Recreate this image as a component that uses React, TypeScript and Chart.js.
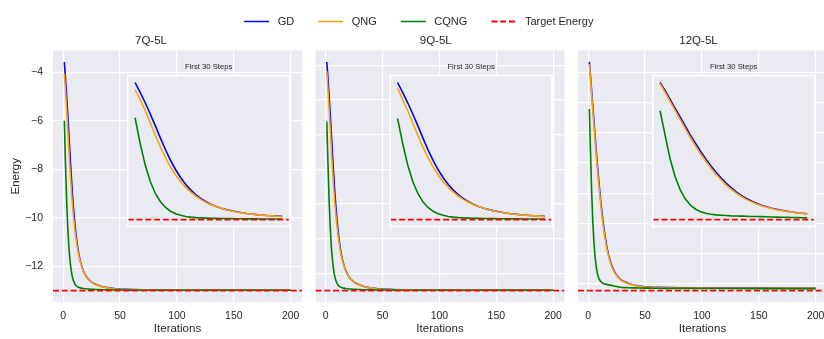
import React, { useEffect, useRef } from 'react';
import { Chart, registerables } from 'chart.js';

Chart.register(...registerables);
Chart.defaults.font.family = "'Liberation Sans', Arial, Helvetica, sans-serif";
Chart.defaults.color = '#262626';

// ---------------- data ----------------
const ITERATIONS = [
  1, 2, 3, 4, 5, 6, 7, 8, 9, 10, 11, 12, 13, 14, 15, 16, 17, 18, 19, 20, 21, 22, 23, 24, 25, 26, 27, 28, 29, 30,
  33, 36, 40, 45, 50, 60, 70, 80, 100, 125, 150, 175, 200,
];

const PANEL_TITLES = ['7Q-5L', '9Q-5L', '12Q-5L'];
const SERIES_LABELS = ['GD', 'QNG', 'CQNG'];
const TARGET_LABEL = 'Target Energy';
const X_LABEL = 'Iterations';
const Y_LABEL = 'Energy';
const INSET_TITLE = 'First 30 Steps';
const INSET_STEPS = 30;
const X_TICK_STEP = 50;
const Y_TICK_STEPS = [2, 2, 2.5];

const TARGET_ENERGY = [-13.0, -17.0, -23.05];

const GD_7Q = [
  -3.58, -4.26, -4.97, -5.74, -6.56, -7.40, -8.20, -8.93, -9.57, -10.12, -10.58, -10.97, -11.29, -11.56, -11.77,
  -11.95, -12.09, -12.21, -12.31, -12.39, -12.46, -12.52, -12.57, -12.61, -12.65, -12.68, -12.71, -12.73, -12.75, -12.77,
  -12.82, -12.855, -12.89, -12.92, -12.94, -12.96, -12.97, -12.975, -12.98, -12.98, -12.98, -12.98, -12.98,
];
const QNG_7Q = [
  -4.07, -4.74, -5.52, -6.35, -7.21, -8.02, -8.74, -9.38, -9.93, -10.39, -10.78, -11.11, -11.39, -11.62, -11.81,
  -11.97, -12.10, -12.215, -12.32, -12.40, -12.47, -12.53, -12.58, -12.62, -12.655, -12.687, -12.714, -12.738, -12.759, -12.777,
  -12.83, -12.86, -12.90, -12.93, -12.95, -12.96, -12.97, -12.98, -12.98, -12.98, -12.98, -12.98, -12.98,
];
const CQNG_7Q = [
  -6.00, -7.75, -9.25, -10.38, -11.20, -11.77, -12.16, -12.42, -12.59, -12.70, -12.78, -12.825, -12.855, -12.875, -12.89,
  -12.90, -12.91, -12.917, -12.923, -12.928, -12.933, -12.937, -12.941, -12.944, -12.947, -12.95, -12.952, -12.954, -12.956, -12.958,
  -12.964, -12.968, -12.972, -12.976, -12.979, -12.982, -12.984, -12.985, -12.986, -12.987, -12.987, -12.988, -12.988,
];

const GD_9Q = [
  -3.81, -4.76, -5.76, -6.84, -7.98, -9.16, -10.28, -11.30, -12.20, -12.97, -13.61, -14.16, -14.61, -14.98, -15.28,
  -15.53, -15.73, -15.89, -16.03, -16.15, -16.24, -16.33, -16.40, -16.45, -16.51, -16.55, -16.59, -16.62, -16.65, -16.68,
  -16.75, -16.80, -16.85, -16.89, -16.915, -16.945, -16.96, -16.965, -16.97, -16.97, -16.97, -16.97, -16.97,
];
const QNG_9Q = [
  -4.35, -5.44, -6.53, -7.69, -8.89, -10.03, -11.04, -11.93, -12.70, -13.35, -13.89, -14.35, -14.75, -15.07, -15.33,
  -15.56, -15.74, -15.90, -16.05, -16.16, -16.26, -16.34, -16.41, -16.47, -16.52, -16.56, -16.60, -16.63, -16.66, -16.69,
  -16.755, -16.805, -16.855, -16.895, -16.92, -16.947, -16.96, -16.967, -16.97, -16.97, -16.97, -16.97, -16.97,
];
const CQNG_9Q = [
  -7.25, -9.65, -11.75, -13.33, -14.48, -15.28, -15.82, -16.19, -16.43, -16.58, -16.69, -16.755, -16.80, -16.825, -16.845,
  -16.86, -16.874, -16.884, -16.892, -16.90, -16.906, -16.912, -16.917, -16.922, -16.926, -16.93, -16.933, -16.936, -16.938, -16.941,
  -16.95, -16.955, -16.961, -16.966, -16.97, -16.975, -16.978, -16.979, -16.98, -16.982, -16.982, -16.983, -16.983,
];

const GD_12Q = [
  -4.14, -5.27, -6.50, -7.73, -8.96, -10.19, -11.42, -12.55, -13.65, -14.67, -15.62, -16.49, -17.28, -18.00, -18.64,
  -19.21, -19.70, -20.12, -20.48, -20.78, -21.05, -21.27, -21.46, -21.63, -21.76, -21.88, -21.99, -22.09, -22.16, -22.24,
  -22.37, -22.48, -22.59, -22.68, -22.74, -22.79, -22.81, -22.82, -22.83, -22.84, -22.85, -22.86, -22.87,
];
const QNG_12Q = [
  -4.30, -5.50, -6.77, -8.04, -9.30, -10.53, -11.76, -12.90, -13.99, -14.99, -15.92, -16.77, -17.55, -18.25, -18.85,
  -19.40, -19.85, -20.25, -20.59, -20.88, -21.12, -21.33, -21.52, -21.67, -21.80, -21.92, -22.01, -22.10, -22.18, -22.26,
  -22.40, -22.51, -22.61, -22.70, -22.76, -22.81, -22.83, -22.84, -22.85, -22.86, -22.86, -22.87, -22.87,
];
const CQNG_12Q = [
  -8.03, -11.42, -14.73, -17.19, -18.98, -20.21, -21.06, -21.61, -21.95, -22.16, -22.29, -22.39, -22.44, -22.48, -22.52,
  -22.54, -22.56, -22.58, -22.60, -22.62, -22.63, -22.65, -22.67, -22.69, -22.71, -22.73, -22.75, -22.77, -22.79, -22.80,
  -22.81, -22.82, -22.83, -22.84, -22.85, -22.86, -22.87, -22.87, -22.88, -22.88, -22.89, -22.89, -22.89,
];

const PANELS = [
  { title: PANEL_TITLES[0], series: [GD_7Q, QNG_7Q, CQNG_7Q], target: TARGET_ENERGY[0], yStep: Y_TICK_STEPS[0] },
  { title: PANEL_TITLES[1], series: [GD_9Q, QNG_9Q, CQNG_9Q], target: TARGET_ENERGY[1], yStep: Y_TICK_STEPS[1] },
  { title: PANEL_TITLES[2], series: [GD_12Q, QNG_12Q, CQNG_12Q], target: TARGET_ENERGY[2], yStep: Y_TICK_STEPS[2] },
];

// ---------------- style / layout ----------------
const TEXT = '#262626';
const BG = '#EAEAF2';
const GRID = '#FFFFFF';
const SERIES_COLORS = ['#0000FF', '#FFA500', '#008000'];
const TARGET_COLOR = '#FF0000';
const LINE_W = 1.6;
const TARGET_W = 1.8;
const TARGET_DASH = [6, 2.8];

const FIG_W = 824;
const FIG_H = 339;
const PANEL_LEFTS = [53, 315.5, 578];
const PANEL_W = 249;
const PLOT_TOP = 50.5;
const PLOT_BOTTOM = 302;
const CANVAS_TOP = 30;
const TITLE_CENTER = 41;
const TITLE_SIZE = 11.5;
const TICK_SIZE = 10.5;
const INSET_BOX = [0.3, 0.3, 0.65, 0.6];
const INSET_TITLE_SIZE = 7.7;
const INSET_TITLE_CENTER = 66.7;
const INSET_CANVAS_TOP = 58;

function axisRange(values: number[]) {
  const lo = Math.min(...values);
  const hi = Math.max(...values);
  const m = (hi - lo) * 0.05;
  return { min: lo - m, max: hi + m };
}

// keep only the "nice" multiples of the step inside the axis range
function niceTicks(step: number) {
  return (s: any) => {
    const out: any[] = [];
    const first = Math.ceil(s.min / step - 1e-9);
    const last = Math.floor(s.max / step + 1e-9);
    for (let k = first; k <= last; k++) out.push({ value: Math.round(k * step * 1000) / 1000 });
    s.ticks = out;
  };
}

const bgPlugin = {
  id: 'panelBg',
  beforeDraw(chart: any, _a: any, opts: any) {
    if (!opts || !opts.color) return;
    const { ctx, chartArea: a } = chart;
    ctx.save();
    ctx.fillStyle = opts.color;
    ctx.fillRect(a.left, a.top, a.right - a.left, a.bottom - a.top);
    ctx.restore();
  },
  afterDatasetsDraw(chart: any, _a: any, opts: any) {
    if (!opts || !opts.frame) return;
    const { ctx, chartArea: a } = chart;
    ctx.save();
    ctx.strokeStyle = GRID;
    ctx.lineWidth = 1.5;
    ctx.strokeRect(a.left, a.top, a.right - a.left, a.bottom - a.top);
    ctx.restore();
  },
};

function buildDatasets(p: any, count: number, xr: { min: number; max: number }, withOrder: boolean) {
  const xs = ITERATIONS.slice(0, count);
  const ds: any[] = p.series.map((arr: number[], k: number) => ({
    label: SERIES_LABELS[k],
    data: arr.slice(0, count).map((y, i) => ({ x: xs[i], y })),
    borderColor: SERIES_COLORS[k],
    backgroundColor: SERIES_COLORS[k],
    borderWidth: LINE_W,
    pointRadius: 0,
    pointHoverRadius: 0,
    order: withOrder ? 4 - k : 0,
  }));
  ds.push({
    label: TARGET_LABEL,
    data: [
      { x: xr.min, y: p.target },
      { x: xr.max, y: p.target },
    ],
    borderColor: TARGET_COLOR,
    backgroundColor: TARGET_COLOR,
    borderWidth: TARGET_W,
    borderDash: TARGET_DASH,
    pointRadius: 0,
    pointHoverRadius: 0,
    order: withOrder ? 1 : 0,
  });
  return ds;
}

function mainGeom(idx: number) {
  const plotLeft = PANEL_LEFTS[idx];
  const yw = idx === 0 ? 53 : 8;
  const left = Math.floor(plotLeft - yw);
  const yAxisW = plotLeft - left;
  const plotRight = plotLeft + PANEL_W;
  const width = Math.ceil(plotRight) + 6 - left;
  const padRight = width - (plotRight - left);
  return { left, top: CANVAS_TOP, width, height: FIG_H - CANVAS_TOP, yAxisW, padRight };
}

function mainConfig(idx: number) {
  const p = PANELS[idx];
  const g = mainGeom(idx);
  const xr = axisRange(ITERATIONS);
  const yr = axisRange([...p.series[0], ...p.series[1], ...p.series[2], p.target]);
  const lh = TITLE_SIZE * 1.2;
  const tPadTop = TITLE_CENTER - CANVAS_TOP - lh / 2;
  const tPadBottom = PLOT_TOP - CANVAS_TOP - tPadTop - lh;
  const xAxisH = FIG_H - PLOT_BOTTOM;
  return {
    type: 'line',
    data: { datasets: buildDatasets(p, ITERATIONS.length, xr, true) },
    plugins: [bgPlugin],
    options: {
      animation: false,
      responsive: false,
      events: [],
      layout: { padding: { left: 0, right: g.padRight, top: 0, bottom: 0 } },
      plugins: {
        legend: { display: false },
        tooltip: { enabled: false },
        title: {
          display: true,
          text: p.title,
          color: TEXT,
          font: { size: TITLE_SIZE, weight: 'normal' },
          padding: { top: tPadTop, bottom: tPadBottom },
        },
        panelBg: { color: BG, frame: false },
      },
      scales: {
        x: {
          type: 'linear',
          min: xr.min,
          max: xr.max,
          bounds: 'data',
          afterBuildTicks: niceTicks(X_TICK_STEP),
          ticks: {
            autoSkip: false,
            maxRotation: 0,
            color: TEXT,
            font: { size: TICK_SIZE },
            padding: 7.7,
            callback: (v: number) => String(v),
          },
          grid: { color: GRID, lineWidth: 1.2, drawTicks: false },
          border: { display: false },
          title: {
            display: true,
            text: X_LABEL,
            color: TEXT,
            font: { size: TITLE_SIZE },
            padding: { top: 0, bottom: 2.8 },
          },
          afterFit: (s: any) => {
            s.height = xAxisH;
          },
        },
        y: {
          type: 'linear',
          min: yr.min,
          max: yr.max,
          bounds: 'data',
          afterBuildTicks: niceTicks(p.yStep),
          ticks: {
            display: idx === 0,
            autoSkip: false,
            color: TEXT,
            font: { size: TICK_SIZE },
            padding: 10,
            callback: (v: number) => (v < 0 ? '\u2212' + Math.abs(v) : String(v)),
          },
          grid: { color: GRID, lineWidth: 1.2, drawTicks: false },
          border: { display: false },
          title: {
            display: idx === 0,
            text: Y_LABEL,
            color: TEXT,
            font: { size: TITLE_SIZE },
            padding: { top: 9.1, bottom: 0 },
          },
          afterFit: (s: any) => {
            s.width = g.yAxisW;
          },
        },
      },
    },
  };
}

function insetGeom(idx: number) {
  const plotLeft = PANEL_LEFTS[idx];
  const plotH = PLOT_BOTTOM - PLOT_TOP;
  const iLeft = plotLeft + INSET_BOX[0] * PANEL_W;
  const iW = INSET_BOX[2] * PANEL_W;
  const iBottom = PLOT_BOTTOM - INSET_BOX[1] * plotH;
  const iTop = iBottom - INSET_BOX[3] * plotH;
  const left = Math.floor(iLeft) - 3;
  const top = INSET_CANVAS_TOP;
  const width = Math.ceil(iLeft + iW) + 3 - left;
  const height = Math.ceil(iBottom) + 3 - top;
  return {
    left,
    top,
    width,
    height,
    padLeft: iLeft - left,
    padRight: width - (iLeft + iW - left),
    padBottom: height - (iBottom - top),
    iTop,
  };
}

function insetConfig(idx: number) {
  const p = PANELS[idx];
  const g = insetGeom(idx);
  const count = ITERATIONS.filter((v) => v <= INSET_STEPS).length;
  const xr = axisRange(ITERATIONS.slice(0, count));
  const yr = axisRange([
    ...p.series[0].slice(0, count),
    ...p.series[1].slice(0, count),
    ...p.series[2].slice(0, count),
    p.target,
  ]);
  const lh = INSET_TITLE_SIZE * 1.2;
  const tPadTop = INSET_TITLE_CENTER - g.top - lh / 2;
  const tPadBottom = g.iTop - g.top - tPadTop - lh;
  return {
    type: 'line',
    data: { datasets: buildDatasets(p, count, xr, true) },
    plugins: [bgPlugin],
    options: {
      animation: false,
      responsive: false,
      events: [],
      layout: { padding: { left: g.padLeft, right: g.padRight, top: 0, bottom: g.padBottom } },
      plugins: {
        legend: { display: false },
        tooltip: { enabled: false },
        title: {
          display: true,
          text: INSET_TITLE,
          color: TEXT,
          font: { size: INSET_TITLE_SIZE, weight: 'normal' },
          padding: { top: tPadTop, bottom: tPadBottom },
        },
        panelBg: { color: BG, frame: true },
      },
      scales: {
        x: { type: 'linear', display: false, min: xr.min, max: xr.max, bounds: 'data' },
        y: { type: 'linear', display: false, min: yr.min, max: yr.max, bounds: 'data' },
      },
    },
  };
}

const LEGEND_TOP = -8;
const LEGEND_H = 140;

function legendConfig() {
  const p = PANELS[0];
  const xr = axisRange(ITERATIONS);
  const ds = buildDatasets(p, 0, xr, false).map((d: any) => ({ ...d, label: ' ' + d.label, data: [] }));
  return {
    type: 'line',
    data: { datasets: ds },
    options: {
      animation: false,
      responsive: false,
      events: [],
      layout: { padding: { left: 13.5, right: 0, top: 0, bottom: 0 } },
      plugins: {
        tooltip: { enabled: false },
        title: { display: false },
        legend: {
          display: true,
          position: 'top',
          align: 'center',
          maxHeight: 80,
          labels: {
            usePointStyle: true,
            pointStyle: 'line',
            pointStyleWidth: 25,
            padding: 24,
            color: TEXT,
            font: { size: 11 },
            generateLabels: (chart: any) =>
              chart.data.datasets.map((d: any, i: number) => ({
                text: d.label,
                fillStyle: d.borderColor,
                strokeStyle: d.borderColor,
                lineWidth: d.borderWidth,
                lineDash: d.borderDash || [],
                lineCap: 'butt',
                pointStyle: 'line',
                hidden: false,
                datasetIndex: i,
                fontColor: TEXT,
              })),
          },
        },
      },
      scales: { x: { display: false }, y: { display: false } },
    },
  };
}

function ChartCanvas(props: { left: number; top: number; width: number; height: number; make: () => any }) {
  const ref = useRef<HTMLCanvasElement | null>(null);
  useEffect(() => {
    if (!ref.current) return;
    const chart = new Chart(ref.current, props.make());
    return () => chart.destroy();
  }, []);
  return (
    <canvas
      ref={ref}
      width={props.width}
      height={props.height}
      style={{ position: 'absolute', left: props.left, top: props.top, width: props.width, height: props.height }}
    />
  );
}

export default function App() {
  return (
    <div
      style={{
        position: 'fixed',
        left: 0,
        top: 0,
        width: FIG_W,
        height: FIG_H,
        overflow: 'hidden',
        background: '#FFFFFF',
      }}
    >
      {PANELS.map((_, i) => {
        const g = mainGeom(i);
        return <ChartCanvas key={'m' + i} left={g.left} top={g.top} width={g.width} height={g.height} make={() => mainConfig(i)} />;
      })}
      {PANELS.map((_, i) => {
        const g = insetGeom(i);
        return <ChartCanvas key={'i' + i} left={g.left} top={g.top} width={g.width} height={g.height} make={() => insetConfig(i)} />;
      })}
      <ChartCanvas left={0} top={LEGEND_TOP} width={FIG_W} height={LEGEND_H} make={legendConfig} />
    </div>
  );
}
